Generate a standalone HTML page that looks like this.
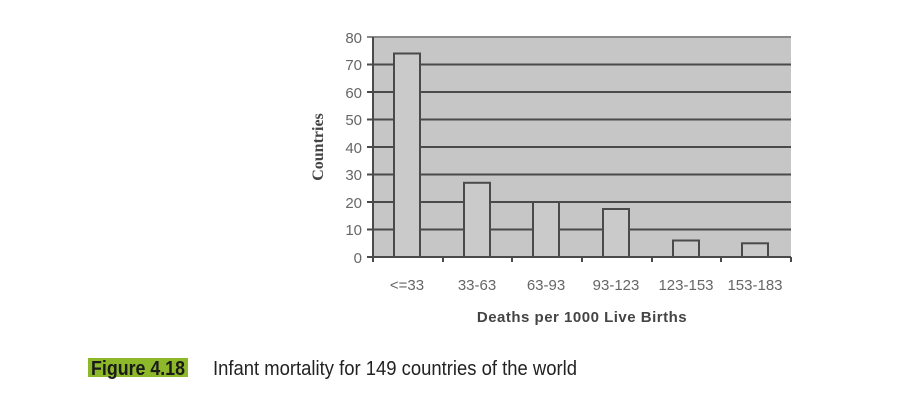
<!DOCTYPE html>
<html><head><meta charset="utf-8"><style>
body{margin:0;background:#fff;width:903px;height:401px;overflow:hidden;}
</style></head><body>
<svg width="903" height="401" xmlns="http://www.w3.org/2000/svg" style="position:absolute;left:0;top:0">
<rect x="373" y="37" width="418" height="220" fill="#c6c6c6"/>
<g stroke="#4a4a4a" stroke-width="2">
<line x1="367" y1="37" x2="791" y2="37" stroke="#888"/>
<line x1="367" y1="64.5" x2="791" y2="64.5"/>
<line x1="367" y1="92" x2="791" y2="92"/>
<line x1="367" y1="119.5" x2="791" y2="119.5"/>
<line x1="367" y1="147" x2="791" y2="147"/>
<line x1="367" y1="174.5" x2="791" y2="174.5"/>
<line x1="367" y1="202" x2="791" y2="202"/>
<line x1="367" y1="229.5" x2="791" y2="229.5"/>
<line x1="367" y1="257" x2="791" y2="257"/>
<line x1="373" y1="37" x2="373" y2="262"/>
<line x1="443" y1="257" x2="443" y2="262"/>
<line x1="512" y1="257" x2="512" y2="262"/>
<line x1="582" y1="257" x2="582" y2="262"/>
<line x1="652" y1="257" x2="652" y2="262"/>
<line x1="721" y1="257" x2="721" y2="262"/>
<line x1="791" y1="257" x2="791" y2="262"/>
</g>
<g fill="#cacaca" stroke="#4a4a4a" stroke-width="2">
<rect x="394" y="53.5" width="26" height="203.5"/>
<rect x="464" y="182.8" width="26" height="74.2"/>
<rect x="533" y="202" width="26" height="55"/>
<rect x="603" y="209" width="26" height="48"/>
<rect x="673" y="240.5" width="26" height="16.5"/>
<rect x="742" y="243.3" width="26" height="13.7"/>
</g>
<g font-family="Liberation Sans, sans-serif" font-size="15" fill="#666" text-anchor="end">
<text x="362" y="43">80</text><text x="362" y="70">70</text><text x="362" y="98">60</text>
<text x="362" y="125">50</text><text x="362" y="153">40</text><text x="362" y="180">30</text>
<text x="362" y="208">20</text><text x="362" y="235">10</text><text x="362" y="263">0</text>
</g>
<g font-family="Liberation Sans, sans-serif" font-size="15" fill="#666" text-anchor="middle">
<text x="407" y="290">&lt;=33</text><text x="477" y="290">33-63</text><text x="546" y="290">63-93</text>
<text x="616" y="290">93-123</text><text x="686" y="290">123-153</text><text x="755" y="290">153-183</text>
</g>
<text x="582" y="322" text-anchor="middle" font-family="Liberation Sans, sans-serif" font-weight="bold" font-size="15" fill="#444" letter-spacing="0.5">Deaths per 1000 Live Births</text>
<text transform="translate(323,147) rotate(-90)" text-anchor="middle" font-family="Liberation Serif, serif" font-weight="bold" font-size="16" fill="#444">Countries</text>
<rect x="88" y="358" width="100" height="19" fill="#8cb82a"/>
<text x="91" y="375" font-family="Liberation Sans Narrow, Liberation Sans, sans-serif" font-weight="bold" font-size="20" fill="#1a1a1a" textLength="94" lengthAdjust="spacingAndGlyphs">Figure 4.18</text>
<text x="213" y="375" font-family="Liberation Sans Narrow, Liberation Sans, sans-serif" font-size="20" fill="#222" textLength="364" lengthAdjust="spacingAndGlyphs">Infant mortality for 149 countries of the world</text>
</svg>
</body></html>
